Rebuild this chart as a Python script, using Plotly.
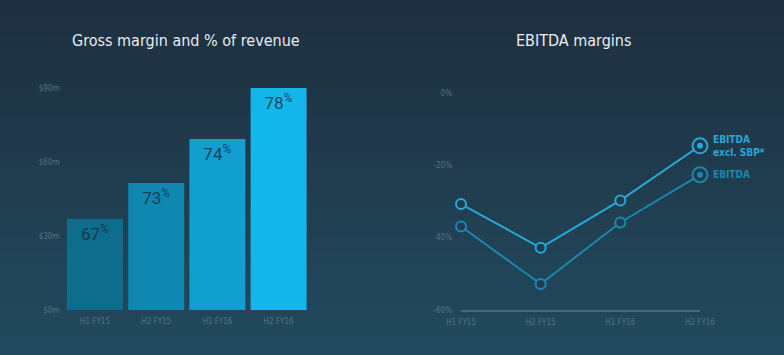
import plotly.graph_objects as go

periods = ["H1 FY15", "H2 FY15", "H1 FY16", "H2 FY16"]
gross_margin_m = [37, 51.5, 69.3, 90]
gross_margin_pct = [67, 73, 74, 78]
bar_colors = ["#0e6d8d", "#0f87b1", "#119fcf", "#14b6ea"]
left_y_ticks = [0, 30, 60, 90]
left_y_labels = ["$0m", "$30m", "$60m", "$90m"]

ebitda_excl_sbp = [-30.7, -42.8, -29.7, -14.6]
ebitda = [-36.9, -52.8, -35.8, -22.6]
right_y_ticks = [-60, -40, -20, 0]
right_y_labels = ["-60%", "-40%", "-20%", "0%"]

W, H = 784, 355
FONT = "DejaVu Sans Condensed, Liberation Sans Narrow, Roboto Condensed, Roboto, sans-serif"
TICK_COLOR = "#50748a"
C_EXCL = "#27a8d8"
C_EBITDA = "#1a87b0"

fig = go.Figure()

# background gradient
top = (30, 47, 63)
bot = (34, 74, 94)
n = 60
for i in range(n):
    t = i / (n - 1)
    c = tuple(int(round(top[k] + (bot[k] - top[k]) * t)) for k in range(3))
    fig.add_shape(type="rect", xref="paper", yref="paper",
                  x0=0, x1=1, y0=1 - (i + 1) / n, y1=1 - i / n + 0.001,
                  fillcolor="rgb(%d,%d,%d)" % c, line_width=0, layer="below")

fig.add_trace(go.Bar(
    x=periods, y=gross_margin_m,
    marker=dict(color=bar_colors, line_width=0),
    text=[f"{p}<sup>%</sup>" for p in gross_margin_pct],
    textposition="inside", insidetextanchor="end",
    textfont=dict(family="Roboto, sans-serif", size=17, color="rgba(20,44,62,0.82)"),
    cliponaxis=False, xaxis="x", yaxis="y", showlegend=False, hoverinfo="skip",
))

line_trace_common = dict(xaxis="x2", yaxis="y2", showlegend=False, cliponaxis=False, hoverinfo="skip")
for vals, col in [(ebitda, C_EBITDA), (ebitda_excl_sbp, C_EXCL)]:
    fig.add_trace(go.Scatter(
        x=list(range(len(periods))), y=vals, mode="lines+markers",
        line=dict(color=col, width=2),
        marker=dict(size=10, color="#213e51", line=dict(color=col, width=2)),
        **line_trace_common))
    fig.add_trace(go.Scatter(
        x=[len(periods) - 1], y=[vals[-1]], mode="markers",
        marker=dict(size=15, color="#1f3a4c", line=dict(color=col, width=2)),
        **line_trace_common))
    fig.add_trace(go.Scatter(
        x=[len(periods) - 1], y=[vals[-1]], mode="markers",
        marker=dict(size=6, color=col, line_width=0),
        **line_trace_common))

fig.add_annotation(x=3, y=ebitda_excl_sbp[-1], xref="x2", yref="y2",
                   text="<b>EBITDA<br>excl. SBP*</b>", showarrow=False,
                   xanchor="left", yanchor="middle", xshift=11, align="left",
                   font=dict(family=FONT, size=10, color=C_EXCL))
fig.add_annotation(x=3, y=ebitda[-1], xref="x2", yref="y2",
                   text="<b>EBITDA</b>", showarrow=False,
                   xanchor="left", yanchor="middle", xshift=11, align="left",
                   font=dict(family=FONT, size=10, color=C_EBITDA))

fig.add_annotation(x=186 / W, y=1 - 41 / H, xref="paper", yref="paper",
                   text="Gross margin and % of revenue", showarrow=False,
                   xanchor="center", yanchor="middle",
                   font=dict(family=FONT, size=16, color="#e6edf1"))
fig.add_annotation(x=573 / W, y=1 - 41 / H, xref="paper", yref="paper",
                   text="EBITDA margins", showarrow=False,
                   xanchor="center", yanchor="middle",
                   font=dict(family=FONT, size=16, color="#e6edf1"))

tickfont = dict(family=FONT, size=8, color=TICK_COLOR)
fig.update_layout(
    width=W, height=H,
    margin=dict(l=0, r=0, t=0, b=0, autoexpand=False),
    paper_bgcolor="#213d50", plot_bgcolor="rgba(0,0,0,0)",
    bargap=0.085,
    xaxis=dict(domain=[64.4 / W, 309.2 / W], range=[-0.5, 3.5], showgrid=False, automargin=False,
               zeroline=False, showline=False, ticks="", tickfont=tickfont, ticklabelstandoff=5),
    yaxis=dict(domain=[1 - 310 / H, 1 - 88 / H], range=[0, 90], tickvals=left_y_ticks,
               ticktext=left_y_labels, showgrid=False, zeroline=False, showline=False,
               automargin=False, ticks="", tickfont=tickfont, ticklabelstandoff=4),
    xaxis2=dict(domain=[461 / W, 700 / W], range=[0, 3], anchor="y2", tickvals=list(range(4)),
                ticktext=periods, showgrid=False, zeroline=False, showline=True,
                automargin=False, linecolor="#3f6a80", linewidth=1.5, ticks="",
                tickfont=tickfont, ticklabelstandoff=4),
    yaxis2=dict(domain=[1 - 310 / H, 1 - 93 / H], range=[-60, 0], anchor="x2",
                tickvals=right_y_ticks, ticktext=right_y_labels, showgrid=False,
                automargin=False, zeroline=False, showline=False, ticks="",
                tickfont=tickfont, ticklabelstandoff=8),
)

fig.write_html("out.html", config={"displayModeBar": False}, post_script=(
    "document.body.style.margin='0';document.body.style.padding='0';"
    "document.documentElement.style.overflow='hidden';document.body.style.overflow='hidden';"
))
